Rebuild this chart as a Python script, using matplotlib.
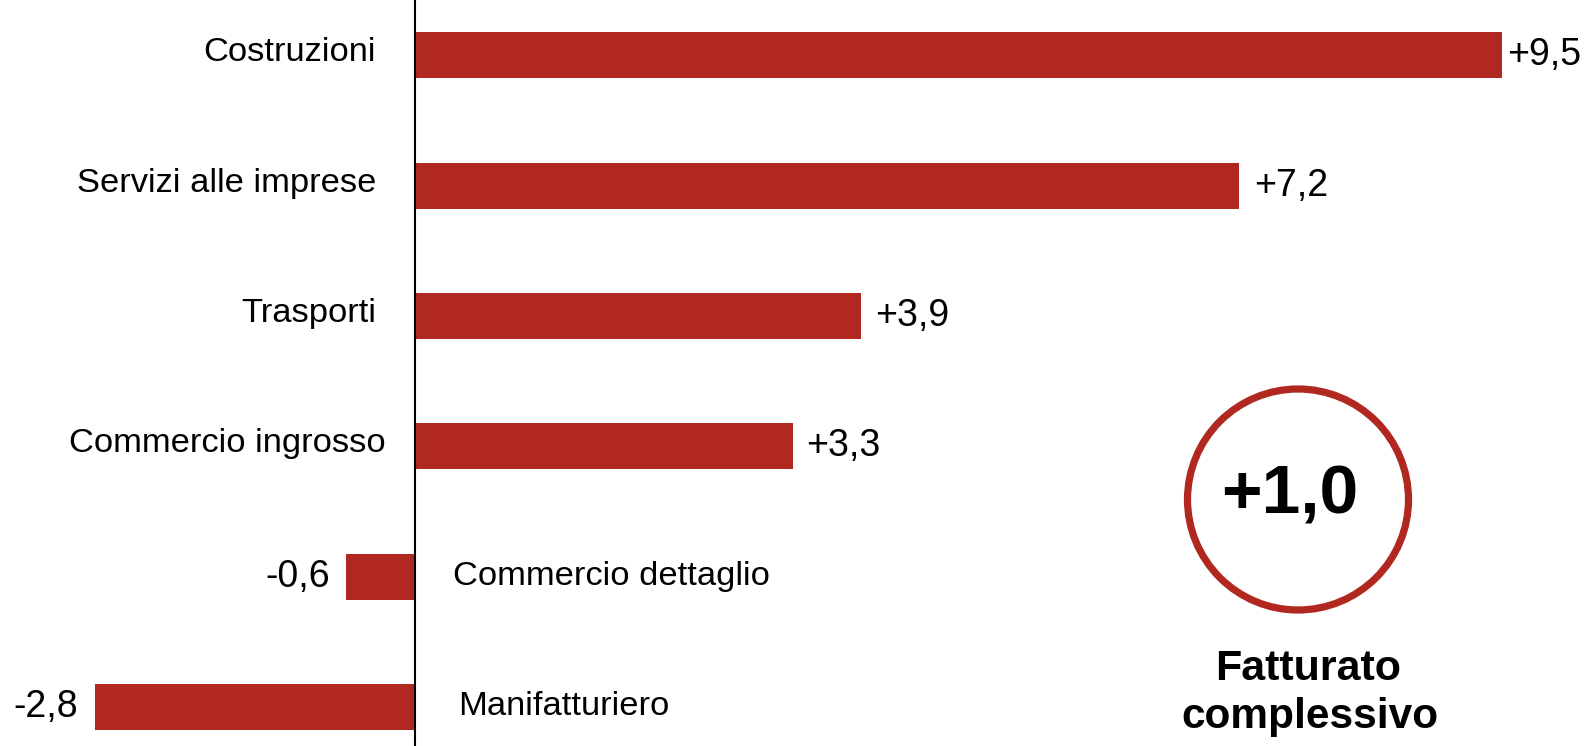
import matplotlib
matplotlib.use("Agg")
import matplotlib.pyplot as plt
from matplotlib.patches import Circle

plt.rcParams['font.family'] = ['Liberation Sans', 'DejaVu Sans']

categories = ["Costruzioni", "Servizi alle imprese", "Trasporti",
              "Commercio ingrosso", "Commercio dettaglio", "Manifatturiero"]
values = [9.5, 7.2, 3.9, 3.3, -0.6, -2.8]
value_labels = ["+9,5", "+7,2", "+3,9", "+3,3", "-0,6", "-2,8"]
total_label = "+1,0"
total_caption = ["Fatturato", "complessivo"]

W, H = 1587, 746
BAR = "#B0281F"
PX = 114.4

fig = plt.figure(figsize=(W / 100, H / 100), dpi=100)
ax = fig.add_axes([0, 0, 1, 1])
ax.set_xlim(-415 / PX, (W - 415) / PX)
ax.set_ylim((H - 55.4) / 130.3, -55.4 / 130.3)
ax.axis("off")

ypos = list(range(len(categories)))
ax.barh(ypos, values, height=0.353, color=BAR, zorder=2)
ax.axvline(0, color="black", lw=1.5, zorder=3)

fs_cat = 24.8
fs_val = 27
label_gap = [4, 11, 10, 10, 12, 12]        # points between bar end and value
cat_x = [-39, -39, -39, -29, 38, 43]       # pixels from zero line
for y, v, cat, lab, g, cx in zip(ypos, values, categories, value_labels, label_gap, cat_x):
    if v >= 0:
        ax.annotate(lab, (v, y), xytext=(g, 0), textcoords="offset points",
                    ha="left", va="center", fontsize=fs_val)
        ax.text(cx / PX, y - 0.02, cat, ha="right", va="center", fontsize=fs_cat)
    else:
        ax.annotate(lab, (v, y), xytext=(-g, 0), textcoords="offset points",
                    ha="right", va="center", fontsize=fs_val)
        ax.text(cx / PX, y, cat, ha="left", va="center", fontsize=fs_cat)

circ = Circle((1298 / 100, (H - 499.5) / 100), 1.105, transform=fig.dpi_scale_trans,
              fill=False, edgecolor=BAR, linewidth=5.2, zorder=4)
fig.add_artist(circ)
fig.text(1290 / W, 1 - 514 / H, total_label, ha="center", va="baseline",
         fontsize=50, fontweight="bold")
fig.text(1308 / W, 1 - 680 / H, total_caption[0], ha="center", va="baseline",
         fontsize=31, fontweight="bold")
fig.text(1310 / W, 1 - 728 / H, total_caption[1], ha="center", va="baseline",
         fontsize=30.5, fontweight="bold")

fig.savefig("out.png", dpi=100)
